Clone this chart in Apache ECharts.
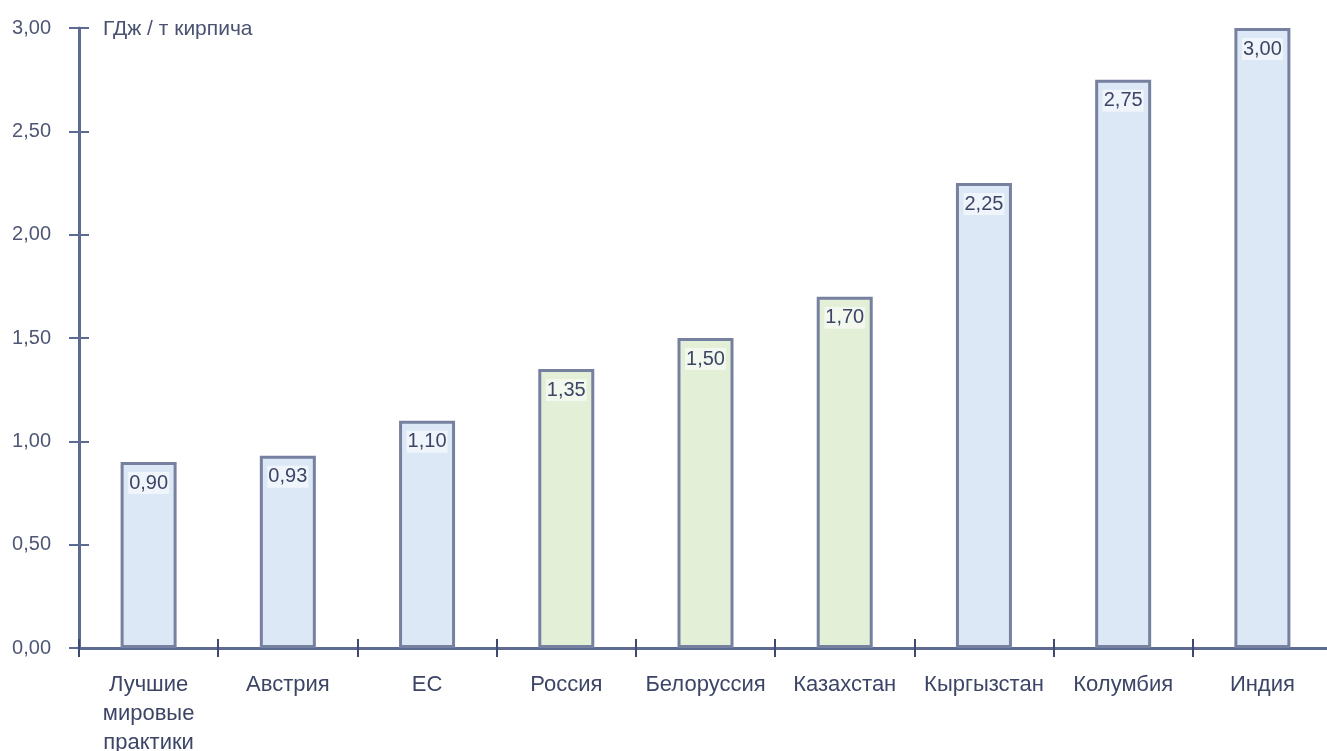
<!DOCTYPE html>
<html>
<head>
<meta charset="utf-8">
<script src="https://cdn.jsdelivr.net/npm/echarts@6/dist/echarts.min.js"></script>
<style>
  html, body { margin: 0; padding: 0; background: #ffffff; }
  #chart { width: 1327px; height: 751px; }
</style>
</head>
<body>
<div id="chart"></div>
<script>
// Удельный расход энергии на производство кирпича, ГДж / т
const categories = ['Лучшие\nмировые\nпрактики', 'Австрия', 'ЕС', 'Россия', 'Белоруссия', 'Казахстан', 'Кыргызстан', 'Колумбия', 'Индия'];
const values = [0.90, 0.93, 1.10, 1.35, 1.50, 1.70, 2.25, 2.75, 3.00];
// группа: 'world' — мировые данные, 'cis' — страны СНГ (выделены зелёным)
const groups = ['world', 'world', 'world', 'cis', 'cis', 'cis', 'world', 'world', 'world'];
const unitLabel = 'ГДж / т кирпича';
const yMin = 0, yMax = 3, yStep = 0.5;

const fills = { world: '#dde8f6', cis: '#e3efd7' };
const edge = '#76819f';
const axisColor = '#5d6b93';
const textColor = '#3d4566';
const fontFamily = '"Liberation Sans", Arial, sans-serif';

const fmt = v => v.toFixed(2).replace('.', ',');

const chart = echarts.init(document.getElementById('chart'));

const yBase = {
  type: 'value', min: yMin, max: yMax, interval: yStep, position: 'left',
  splitLine: { show: false }
};
const xBase = {
  type: 'category', data: categories, position: 'bottom',
  axisTick: { show: true, alignWithLabel: false, length: 9, lineStyle: { color: '#3e4a72', width: 2 } }
};

chart.setOption({
  animation: false,
  backgroundColor: '#ffffff',
  grid: { left: 79, top: 28, width: 1253, height: 620, containLabel: false, outerBoundsMode: 'none' },
  graphic: [{
    type: 'text', left: 103, top: 19,
    style: { text: unitLabel, fontSize: 21, fontFamily, fill: '#4a5272' }
  }],
  xAxis: [
    Object.assign({}, xBase, {
      axisLine: { show: true, lineStyle: { color: axisColor, width: 3 } },
      axisLabel: {
        color: textColor, fontSize: 22, fontFamily, margin: 22, lineHeight: 29,
        interval: 0
      }
    }),
    Object.assign({}, xBase, {
      axisLine: { show: false },
      axisLabel: { show: false },
      axisTick: Object.assign({}, xBase.axisTick, { inside: true })
    })
  ],
  yAxis: [
    Object.assign({}, yBase, {
      axisLine: { show: true, lineStyle: { color: axisColor, width: 3 } },
      axisTick: { show: true, length: 10, lineStyle: { color: axisColor, width: 2 } },
      axisLabel: {
        color: '#4f5775', fontSize: 20, fontFamily, margin: 28,
        formatter: v => fmt(v)
      }
    }),
    Object.assign({}, yBase, {
      axisLine: { show: false },
      axisTick: { show: true, inside: true, length: 10, lineStyle: { color: axisColor, width: 2 } },
      axisLabel: { show: false }
    })
  ],
  series: [{
    type: 'bar',
    xAxisIndex: 0, yAxisIndex: 0,
    barWidth: 56,
    data: values.map((v, i) => ({
      value: v,
      itemStyle: { color: fills[groups[i]], borderColor: edge, borderWidth: 3 }
    })),
    label: {
      show: true, position: 'insideTop', distance: 10,
      color: textColor, fontSize: 20, fontFamily,
      backgroundColor: 'rgba(255,255,255,0.55)', padding: [1, 1],
      formatter: p => fmt(p.value)
    }
  }]
});
</script>
</body>
</html>
